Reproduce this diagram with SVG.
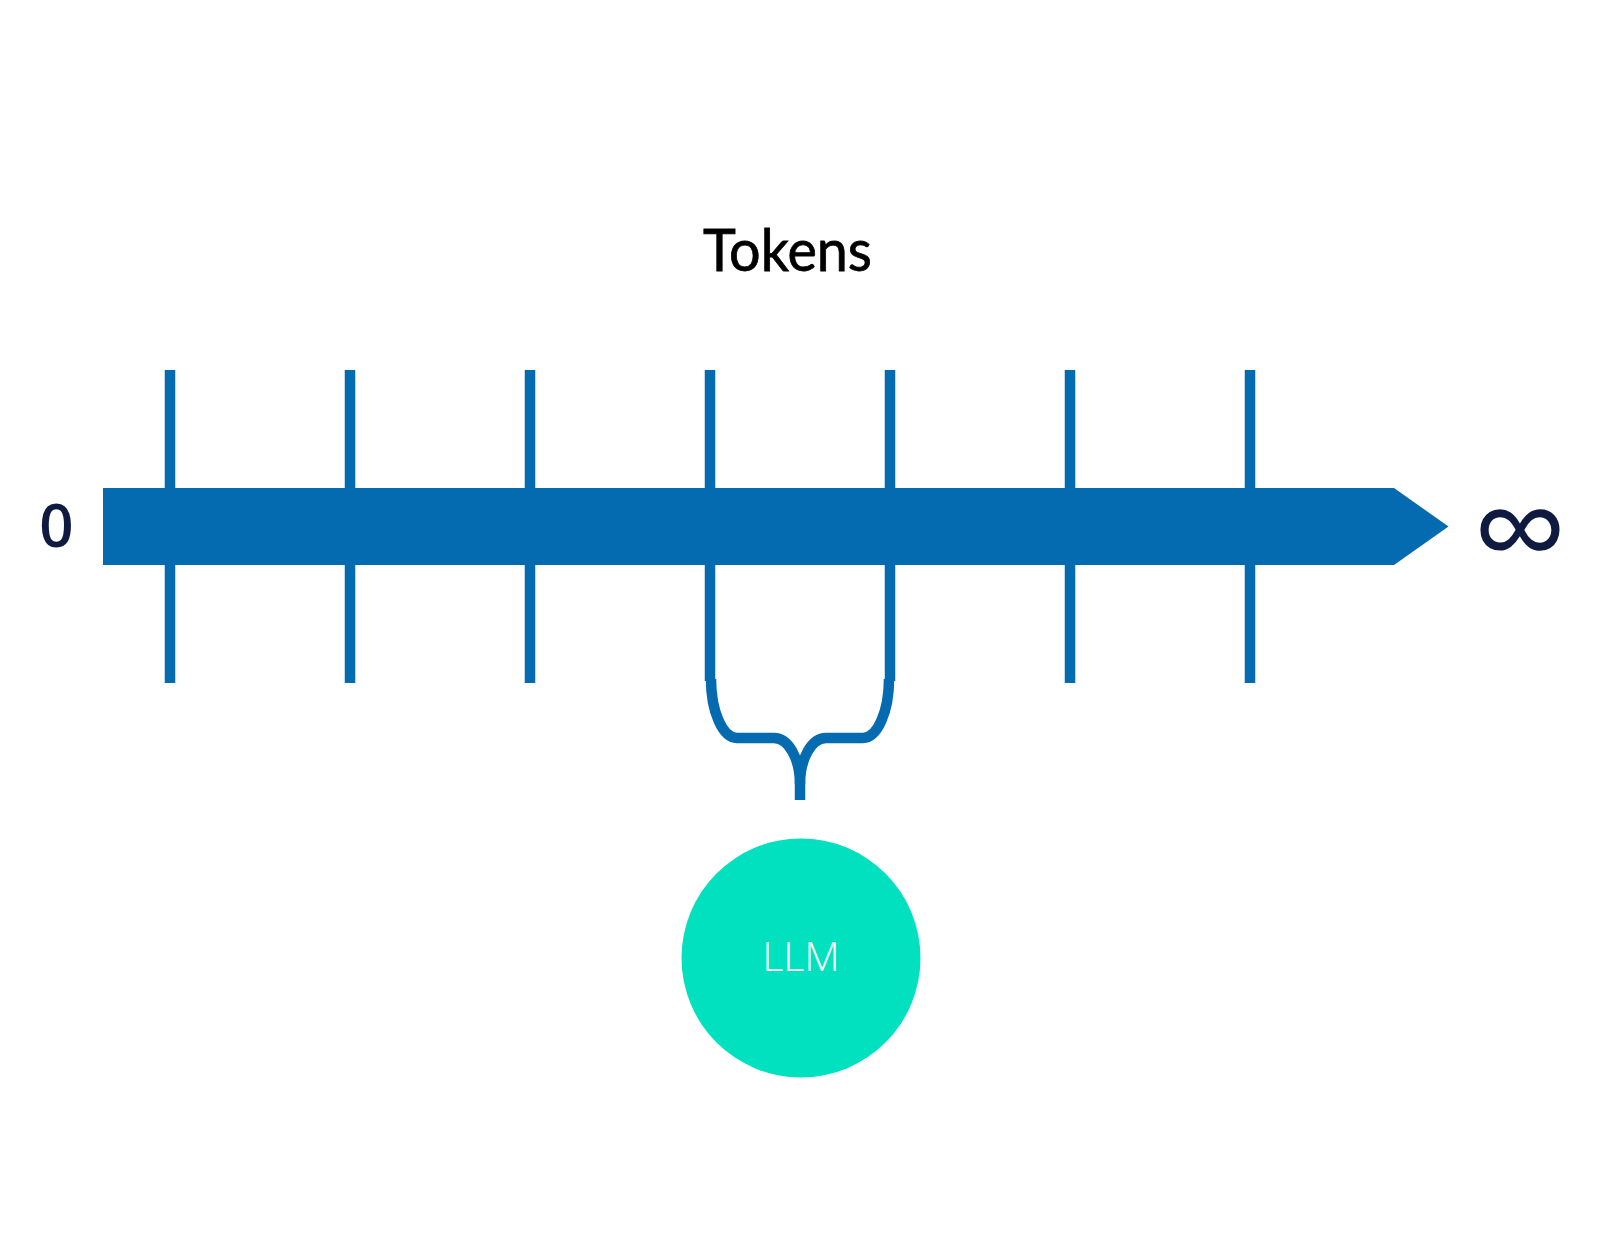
<svg xmlns="http://www.w3.org/2000/svg" width="1600" height="1244" viewBox="0 0 1600 1244">
<style>
.tick{stroke:#046BB1;stroke-width:10.5;fill:none}
.brace{stroke:#046BB1;stroke-width:10.5;fill:none;stroke-linejoin:round}
.lbl{font-family:"Open Sans","DejaVu Sans",sans-serif;fill:#0E1A40}
</style>
<rect width="1600" height="1244" fill="#ffffff"/>
<g id="title"><text x="703" y="271" font-family="Lato,'Open Sans',sans-serif" font-weight="400" font-size="58" textLength="169" lengthAdjust="spacingAndGlyphs" fill="#000" stroke="#000" stroke-width="0.8">Tokens</text></g>
<g id="axis">
<polygon points="103,488 1394,488 1448.5,526.5 1394,565 103,565" fill="#046BB1"/>
</g>
<g id="ticks">
<line class="tick" x1="170" y1="370" x2="170" y2="683"/>
<line class="tick" x1="350" y1="370" x2="350" y2="683"/>
<line class="tick" x1="530" y1="370" x2="530" y2="683"/>
<line class="tick" x1="710" y1="370" x2="710" y2="681"/>
<line class="tick" x1="890" y1="370" x2="890" y2="681"/>
<line class="tick" x1="1070" y1="370" x2="1070" y2="683"/>
<line class="tick" x1="1250" y1="370" x2="1250" y2="683"/>
</g>
<g id="label-zero"><text class="lbl" x="56.5" y="546.5" text-anchor="middle" font-size="60" font-weight="600">0</text></g>
<g id="label-inf"><text class="lbl" x="1520" y="577" text-anchor="middle" font-size="134" font-family="'DejaVu Sans',sans-serif">∞</text></g>
<g id="connectors">
<path class="brace" d="M711,679 A26,59 0 0 0 737,738 L774,738 A26,46 0 0 1 800,784 L800,800"/>
<path class="brace" d="M889,679 A26,59 0 0 1 863,738 L826,738 A26,46 0 0 0 800,784"/>
</g>
<g id="llm">
<circle cx="801" cy="958" r="119.5" fill="#02E1BF"/>
<text x="801" y="971" text-anchor="middle" font-family="'Open Sans',sans-serif" font-weight="300" font-size="41" fill="#ffffff">LLM</text>
</g>
</svg>
